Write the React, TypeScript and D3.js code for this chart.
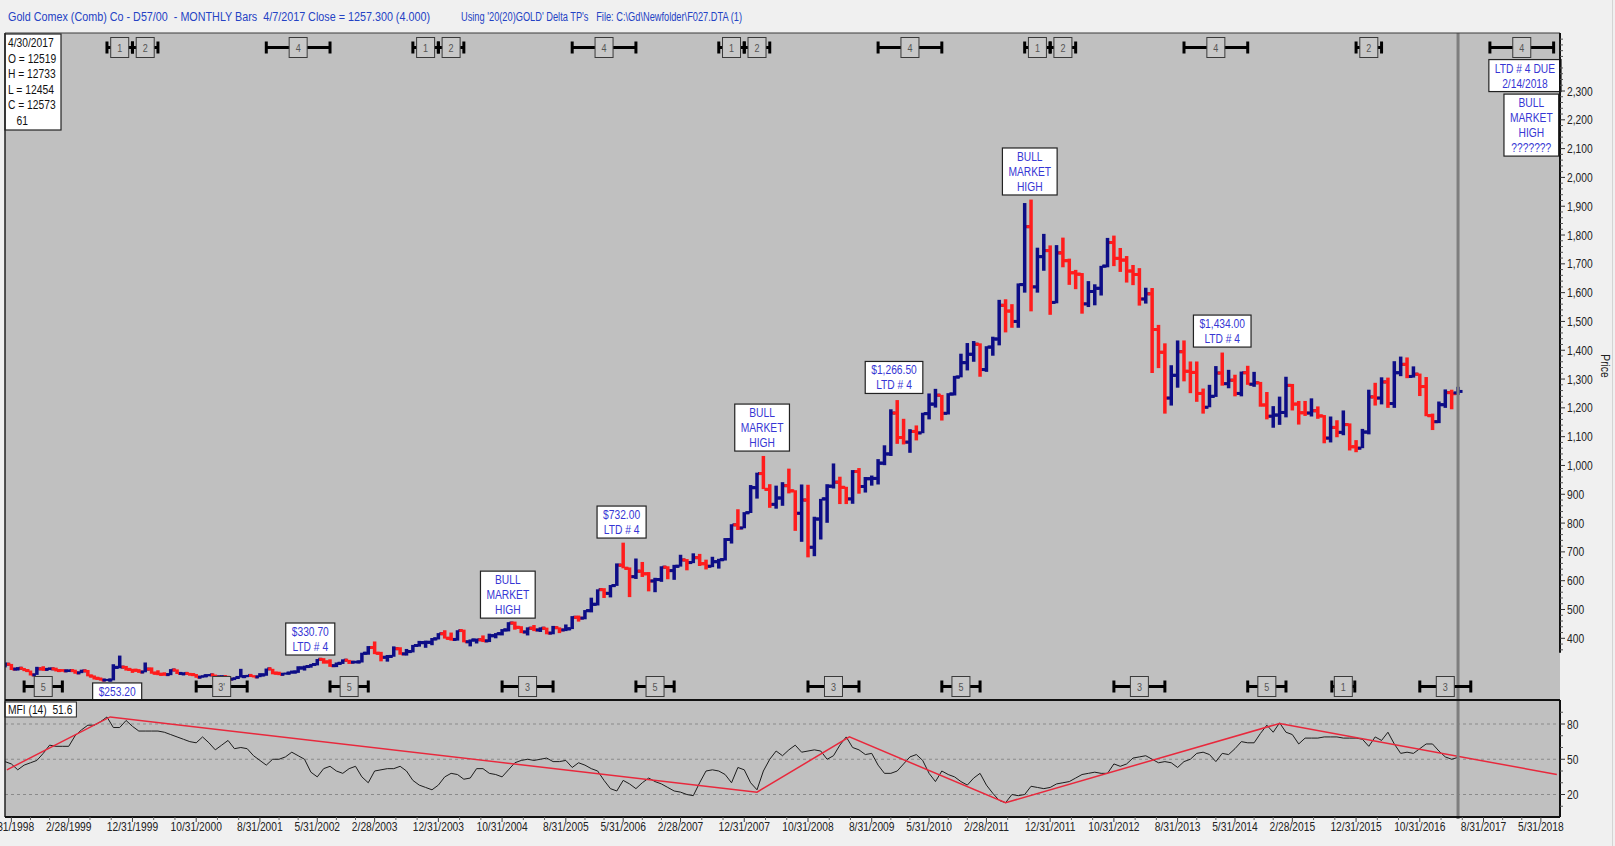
import React from 'react';
import * as d3 from 'd3';

// monthly bars, Apr 1998 .. Apr 2017 (month index counted from Jan 1998)
const firstMonth = 3;

const opens = [
  301, 310, 293, 296, 288, 273, 294, 292, 294,
  288, 287, 288, 280, 287, 269, 261, 255, 255, 299, 300, 292,
  289, 283, 293, 279, 275, 274, 290, 278, 278, 274, 265, 270,
  273, 266, 267, 258, 264, 267, 271, 266, 273, 294, 279, 275,
  279, 283, 297, 302, 309, 327, 318, 305, 313, 324, 317, 318,
  348, 368, 348, 334, 337, 364, 346, 354, 375, 385, 386, 398,
  416, 400, 396, 427, 388, 394, 395, 391, 409, 416, 429, 453,
  438, 422, 435, 429, 435, 418, 437, 429, 433, 473, 470, 496,
  518, 569, 556, 583, 654, 643, 614, 633, 624, 599, 604, 647,
  635, 650, 672, 663, 680, 659, 650, 666, 673, 743, 794, 783,
  836, 923, 972, 917, 865, 887, 930, 912, 834, 880, 716, 814,
  884, 928, 942, 924, 884, 979, 927, 954, 955, 1008, 1040, 1182,
  1097, 1081, 1118, 1113, 1180, 1213, 1244, 1181, 1248, 1307, 1357, 1386,
  1421, 1333, 1411, 1439, 1556, 1536, 1500, 1628, 1829, 1620, 1725, 1746,
  1566, 1738, 1711, 1669, 1664, 1561, 1604, 1615, 1692, 1774, 1719, 1713,
  1675, 1663, 1578, 1596, 1472, 1393, 1234, 1313, 1395, 1327, 1323, 1250,
  1202, 1240, 1321, 1284, 1296, 1250, 1322, 1282, 1287, 1210, 1171, 1175,
  1184, 1278, 1213, 1183, 1182, 1190, 1172, 1095, 1132, 1115, 1142, 1065,
  1060, 1116, 1238, 1234, 1290, 1215, 1322, 1351, 1309, 1317, 1274, 1173,
  1152, 1211, 1253, 1252,
];
const highs = [
  316, 311, 300, 297, 288, 301, 303, 299, 298,
  293, 292, 291, 291, 290, 271, 264, 259, 310, 340, 304, 294,
  293, 316, 299, 289, 282, 293, 292, 282, 280, 276, 272, 276,
  274, 272, 270, 265, 294, 273, 272, 279, 295, 294, 284, 281,
  288, 303, 305, 311, 328, 331, 327, 316, 327, 325, 322, 350,
  373, 389, 353, 342, 372, 369, 363, 377, 391, 392, 401, 418,
  428, 420, 428, 430, 396, 399, 410, 416, 418, 432, 456, 458,
  442, 438, 446, 438, 437, 443, 438, 448, 477, 479, 498, 541,
  570, 574, 585, 660, 732, 646, 677, 665, 630, 610, 650, 650,
  655, 690, 675, 695, 693, 673, 683, 676, 748, 796, 848, 838,
  932, 975, 1033, 935, 930, 942, 989, 914, 934, 933, 822, 884,
  935, 1007, 961, 926, 984, 991, 960, 965, 1022, 1070, 1195, 1227,
  1162, 1126, 1139, 1183, 1250, 1266, 1245, 1251, 1311, 1388, 1425, 1432,
  1424, 1414, 1447, 1575, 1577, 1560, 1632, 1911, 1923, 1756, 1804, 1764,
  1765, 1791, 1718, 1679, 1668, 1640, 1629, 1693, 1790, 1798, 1755, 1727,
  1696, 1685, 1617, 1616, 1488, 1424, 1348, 1434, 1434, 1361, 1361, 1267,
  1280, 1345, 1392, 1332, 1315, 1326, 1346, 1325, 1290, 1255, 1206, 1239,
  1308, 1283, 1224, 1224, 1233, 1205, 1175, 1170, 1157, 1191, 1146, 1088,
  1127, 1263, 1287, 1306, 1305, 1362, 1378, 1375, 1344, 1319, 1307, 1180,
  1222, 1264, 1263, 1273,
];
const lows = [
  299, 290, 288, 286, 271, 273, 287, 290, 285,
  284, 283, 277, 279, 268, 257, 253, 253, 254, 296, 288, 280,
  280, 282, 277, 272, 270, 272, 276, 271, 270, 263, 263, 268,
  262, 255, 256, 255, 264, 265, 264, 265, 270, 275, 272, 274,
  277, 280, 288, 298, 306, 312, 301, 300, 311, 311, 313, 316,
  343, 345, 320, 319, 336, 343, 340, 351, 371, 367, 376, 396,
  399, 392, 392, 386, 372, 382, 387, 387, 400, 410, 424, 430,
  418, 410, 425, 422, 414, 414, 418, 425, 432, 458, 466, 490,
  514, 540, 542, 582, 643, 543, 606, 613, 563, 560, 596, 605,
  603, 649, 636, 661, 651, 639, 647, 642, 670, 729, 776, 782,
  835, 885, 918, 853, 850, 860, 903, 773, 735, 681, 685, 743,
  801, 920, 866, 866, 867, 902, 906, 930, 934, 1001, 1033, 1075,
  1073, 1044, 1087, 1112, 1160, 1201, 1156, 1177, 1243, 1306, 1330, 1360,
  1308, 1325, 1381, 1417, 1462, 1478, 1478, 1600, 1535, 1600, 1676, 1523,
  1563, 1688, 1627, 1612, 1527, 1550, 1556, 1590, 1688, 1692, 1672, 1635,
  1626, 1555, 1562, 1321, 1338, 1180, 1208, 1270, 1292, 1251, 1221, 1180,
  1202, 1238, 1277, 1268, 1240, 1240, 1280, 1273, 1204, 1160, 1131, 1141,
  1167, 1191, 1142, 1172, 1170, 1162, 1077, 1080, 1098, 1105, 1052, 1046,
  1060, 1108, 1208, 1212, 1200, 1200, 1310, 1303, 1305, 1241, 1171, 1123,
  1147, 1200, 1195, 1245,
];
const closes = [
  310, 293, 296, 288, 273, 294, 292, 294, 288,
  287, 288, 280, 287, 269, 261, 255, 255, 299, 300, 292, 289,
  283, 293, 279, 275, 274, 290, 278, 278, 274, 265, 270, 273,
  266, 267, 258, 264, 267, 271, 266, 273, 294, 279, 275, 279,
  283, 297, 302, 309, 327, 318, 305, 313, 324, 317, 318, 348,
  368, 348, 334, 337, 364, 346, 354, 375, 385, 386, 398, 416,
  400, 396, 427, 388, 394, 395, 391, 409, 416, 429, 453, 438,
  422, 435, 429, 435, 418, 437, 429, 433, 473, 470, 496, 518,
  569, 556, 583, 654, 643, 614, 633, 624, 599, 604, 647, 635,
  650, 672, 663, 680, 659, 650, 666, 673, 743, 794, 783, 836,
  923, 972, 917, 865, 887, 930, 912, 834, 880, 716, 814, 884,
  928, 942, 924, 884, 979, 927, 954, 955, 1008, 1040, 1182, 1097,
  1081, 1118, 1113, 1180, 1213, 1244, 1181, 1248, 1307, 1357, 1386, 1421,
  1333, 1411, 1439, 1556, 1536, 1500, 1628, 1829, 1620, 1725, 1746, 1566,
  1738, 1711, 1669, 1664, 1561, 1604, 1615, 1692, 1774, 1719, 1713, 1675,
  1663, 1578, 1596, 1472, 1393, 1234, 1313, 1395, 1327, 1323, 1250, 1202,
  1240, 1321, 1284, 1296, 1250, 1322, 1282, 1287, 1210, 1171, 1175, 1184,
  1278, 1213, 1183, 1182, 1190, 1172, 1095, 1132, 1115, 1142, 1065, 1060,
  1116, 1238, 1234, 1290, 1215, 1322, 1351, 1309, 1317, 1274, 1173, 1152,
  1211, 1253, 1249, 1257,
];

// MFI(14), one value per bar
const mfi = [
  48, 46, 41, 45, 47, 49, 55, 62, 61,
  61, 61, 70, 75, 79, 79, 82, 86, 77, 77, 83, 78,
  74, 74, 74, 74, 73, 71, 69, 67, 65, 64, 69, 64,
  58, 62, 66, 59, 60, 59, 53, 49, 45, 50, 50, 52,
  56, 53, 50, 39, 35, 42, 44, 40, 38, 42, 44, 35,
  30, 40, 41, 42, 42, 44, 40, 32, 28, 26, 24, 28,
  35, 38, 37, 33, 34, 42, 42, 38, 37, 35, 41, 47,
  49, 50, 49, 50, 51, 48, 48, 49, 43, 47, 45, 42,
  40, 32, 25, 23, 32, 29, 25, 30, 34, 31, 29, 26,
  23, 22, 20, 19, 30, 40, 41, 40, 37, 30, 43, 41,
  30, 24, 40, 50, 57, 53, 58, 62, 56, 57, 58, 57,
  50, 53, 62, 69, 60, 58, 54, 55, 45, 38, 38, 40,
  46, 52, 54, 49, 38, 31, 40, 37, 35, 31, 28, 34,
  38, 28, 21, 15, 13, 20, 19, 20, 27, 26, 25, 26,
  29, 30, 31, 34, 37, 38, 39, 38, 38, 46, 44, 46,
  51, 52, 53, 50, 47, 48, 47, 43, 48, 50, 55, 56,
  54, 48, 55, 54, 59, 65, 64, 64, 72, 79, 73, 81,
  73, 71, 63, 68, 68, 68, 69, 69, 69, 68, 68, 68,
  67, 61, 69, 66, 73, 63, 55, 56, 55, 59, 63, 63,
  57, 52, 50, 51.6,
];

// red trend lines drawn on the MFI
const trendMonths = [3.3, 19.5, 121, 135.5, 160, 203, 246.5];
const trendValues = [41, 86, 22, 69, 13, 80.5, 37];

const dateLabels = [
  '5/31/1998', '2/28/1999', '12/31/1999', '10/31/2000', '8/31/2001', '5/31/2002', '2/28/2003',
  '12/31/2003', '10/31/2004', '8/31/2005', '5/31/2006', '2/28/2007', '12/31/2007', '10/31/2008',
  '8/31/2009', '5/31/2010', '2/28/2011', '12/31/2011', '10/31/2012', '8/31/2013', '5/31/2014',
  '2/28/2015', '12/31/2015', '10/31/2016', '8/31/2017', '5/31/2018',
];
const priceTicks = d3.range(400, 2301, 100);
const mfiTicks = [20, 50, 80];

// time cycle markers: label, centre month, half span in months
const topCycleLabels = ['1', '2', '4', '1', '2', '4', '1', '2', '4', '1', '2', '4', '2', '4'];
const topCycleMonths = [21, 25, 49, 69, 73, 97, 117, 121, 145, 165, 169, 193, 217, 241];
const topCycleSpans = [2, 2, 5, 2, 2, 5, 2, 2, 5, 2, 2, 5, 2, 5];
const bottomCycleLabels = ['5', "3'", '5', '3', '5', '3', '5', '3', '5', '1', '3'];
const bottomCycleMonths = [9, 37, 57, 85, 105, 133, 153, 181, 201, 213, 229];
const bottomCycleSpans = [3, 4, 3, 4, 3, 4, 3, 4, 3, 1.8, 4];

// text boxes on the price panel
const noteTexts = [
  ['$253.20'],
  ['$330.70', 'LTD # 4'],
  ['BULL', 'MARKET', 'HIGH'],
  ['$732.00', 'LTD # 4'],
  ['BULL', 'MARKET', 'HIGH'],
  ['$1,266.50', 'LTD # 4'],
  ['BULL', 'MARKET', 'HIGH'],
  ['$1,434.00', 'LTD # 4'],
  ['LTD # 4 DUE', '2/14/2018'],
  ['BULL', 'MARKET', 'HIGH', '???????'],
];
const noteMonths = [20.6, 50.9, 81.9, 99.75, 121.8, 142.5, 163.8, 194, 241.5, 242.5];
const notePrices = [245, 342, 470, 748, 1050, 1250, 1939, 1411, 2298, 2074];
const noteBelow = [true, false, false, false, false, false, false, false, false, false];

const infoLines = ['4/30/2017', 'O = 12519', 'H = 12733', 'L = 12454', 'C = 12573', '   61'];
const mfiCaption = 'MFI (14)  51.6';

const FONT = "'Liberation Sans Narrow', 'Arial Narrow', 'Liberation Sans', Arial, sans-serif";
const BLUE = '#0d0d86';
const RED = '#ff1c1c';
const NOTE = '#3636d4';
const BG = '#c0c0c0';
const NARROW = 0.82; // the original uses a condensed face

let ctx: CanvasRenderingContext2D | null = null;
const textWidth = (s: string, size = 12) => {
  if (!ctx) ctx = document.createElement('canvas').getContext('2d');
  if (!ctx) return s.length * 6.2;
  ctx.font = `${size}px ${FONT}`;
  return ctx.measureText(s).width;
};

// condensed text: squeeze the measured width
function T({ s, size = 12, len, ...rest }: { s: string; size?: number; len?: number; [k: string]: any }) {
  return (
    <text fontSize={size} textLength={len ?? textWidth(s, size) * NARROW} lengthAdjust="spacingAndGlyphs"
      style={{ whiteSpace: 'pre' }} {...rest}>{s}</text>
  );
}

const monthIndex = (label: string) => {
  const [m, , yr] = label.split('/').map(Number);
  return (yr - 1998) * 12 + m - 1;
};

const L = 5, R = 1560, TOP = 33, MID = 700, BOT = 817;

function Cycle({ cx, x0, x1, cy, label }: { cx: number; x0: number; x1: number; cy: number; label: string }) {
  return (
    <g>
      <line x1={x0} x2={x1} y1={cy} y2={cy} stroke="#000" strokeWidth={3} />
      <line x1={x0} x2={x0} y1={cy - 6} y2={cy + 6} stroke="#000" strokeWidth={3} />
      <line x1={x1} x2={x1} y1={cy - 6} y2={cy + 6} stroke="#000" strokeWidth={3} />
      <rect x={cx - 9} y={cy - 10} width={18} height={20} fill="#c8c8c8" stroke="#3a3a3a" strokeWidth={1} />
      <T s={label} x={cx} y={cy + 4} textAnchor="middle" size={11} fill="#555" />
    </g>
  );
}

export default function App() {
  const x = d3.scaleLinear().domain([3, 247]).range([L, R]);
  const y = d3.scaleLinear().domain([400, 2300]).range([638.3, 91]);
  const ym = d3.scaleLinear().domain([0, 100]).range([818, 700.5]);

  const mfiLine = d3.line<number>().x((_, i) => x(firstMonth + i)).y(v => ym(v));
  const trendLine = d3.line<number>().x((_, i) => x(trendMonths[i])).y(v => ym(v));

  const labelMonths = dateLabels.map(monthIndex);
  const minorTicks: number[] = [];
  labelMonths.forEach((m, i) => {
    const next = labelMonths[i + 1];
    if (next !== undefined) {
      minorTicks.push(m + (next - m) / 3, m + (2 * (next - m)) / 3);
    }
  });

  const minorPrice = d3.range(360, 2500, 20).filter(v => v % 100 !== 0);
  const minorMfi = d3.range(10, 100, 10).filter(v => !mfiTicks.includes(v));
  const captionW = textWidth(mfiCaption, 12.5) * NARROW + 7;

  return (
    <svg width={1615} height={846} style={{ position: 'absolute', left: 0, top: 0 }} fontFamily={FONT}>
      <defs>
        <clipPath id="mainClip"><rect x={L} y={TOP} width={R - L} height={MID - TOP} /></clipPath>
        <clipPath id="mfiClip"><rect x={L} y={MID} width={R - L} height={BOT - MID} /></clipPath>
      </defs>
      <rect width={1615} height={846} fill="#f0f0f0" />
      <line x1={1612.5} x2={1612.5} y1={0} y2={846} stroke="#d4d4d4" />

      {/* header */}
      <T s="Gold Comex (Comb) Co - D57/00  - MONTHLY Bars  4/7/2017 Close = 1257.300 (4.000)"
        x={8} y={21} size={12.5} len={422} fill="#2442c4" />
      <T s={"Using '20(20)GOLD' Delta TP's   File: C:\\Gd\\Newfolder\\F027.DTA (1)"}
        x={461} y={21} size={12.5} len={281} fill="#2442c4" />

      {/* panels */}
      <rect x={L} y={TOP} width={R - L} height={MID - TOP} fill={BG} />
      <rect x={L} y={MID} width={R - L} height={BOT - MID} fill={BG} />

      {/* price bars */}
      <g clipPath="url(#mainClip)">
        {closes.map((c, i) => {
          const cx = x(firstMonth + i);
          const col = c >= opens[i] ? BLUE : RED;
          return (
            <g key={i} fill={col}>
              <rect x={cx - 1.75} y={y(highs[i])} width={3.5} height={Math.max(2, y(lows[i]) - y(highs[i]))} />
              <rect x={cx - 4.5} y={y(opens[i]) - 1.5} width={3.5} height={3} />
              <rect x={cx + 1} y={y(c) - 1.5} width={3.5} height={3} />
            </g>
          );
        })}
      </g>

      {/* MFI */}
      <g clipPath="url(#mfiClip)">
        {mfiTicks.map(t => (
          <line key={t} x1={L} x2={R} y1={ym(t)} y2={ym(t)} stroke="#8a8a8a" strokeDasharray="3,3" />
        ))}
        <path d={mfiLine(mfi) ?? ''} fill="none" stroke="#1c1c1c" strokeWidth={1} />
        <path d={trendLine(trendValues) ?? ''} fill="none" stroke="#e8283c" strokeWidth={1.5} />
      </g>

      {/* current bar marker */}
      <line x1={x(231)} x2={x(231)} y1={TOP} y2={BOT + 2} stroke="#7e7e7e" strokeWidth={3} />

      {/* cycle markers */}
      {topCycleLabels.map((lab, i) => (
        <Cycle key={'t' + i} label={lab} cx={x(topCycleMonths[i])} cy={47.5}
          x0={x(topCycleMonths[i] - topCycleSpans[i])} x1={x(topCycleMonths[i] + topCycleSpans[i])} />
      ))}
      {bottomCycleLabels.map((lab, i) => (
        <Cycle key={'b' + i} label={lab} cx={x(bottomCycleMonths[i])} cy={686.5}
          x0={x(bottomCycleMonths[i] - bottomCycleSpans[i])} x1={x(bottomCycleMonths[i] + bottomCycleSpans[i])} />
      ))}

      {/* notes */}
      {noteTexts.map((lines, i) => {
        const w = Math.max(...lines.map(s => textWidth(s, 12.5) * NARROW)) + 12;
        const h = lines.length * 15 + 2;
        const cx = x(noteMonths[i]);
        const top = noteBelow[i] ? y(notePrices[i]) : y(notePrices[i]) - h;
        return (
          <g key={'n' + i}>
            <rect x={cx - w / 2} y={top} width={w} height={h} fill="#fff" stroke="#222" strokeWidth={1.2} />
            {lines.map((s, j) => (
              <T key={j} s={s} x={cx} y={top + 13 + j * 15} textAnchor="middle" size={12.5} fill={NOTE} />
            ))}
          </g>
        );
      })}

      {/* info box */}
      <rect x={L} y={TOP + 1} width={56} height={96} fill="#fff" stroke="#222" strokeWidth={1.2} />
      {infoLines.map((s, i) => (
        <T key={i} s={s} x={L + 3} y={TOP + 14 + i * 15.5} size={12.5} fill="#111" />
      ))}
      <rect x={L} y={MID + 2} width={captionW} height={15} fill="#fff" stroke="#222" strokeWidth={1} />
      <T s={mfiCaption} x={L + 3} y={MID + 14} size={12.5} fill="#111" />

      {/* frame lines */}
      <line x1={L} x2={R} y1={TOP} y2={TOP} stroke="#3a3a3a" />
      <line x1={L} x2={L} y1={TOP} y2={BOT} stroke="#222" strokeWidth={1.5} />
      <line x1={L} x2={R} y1={MID} y2={MID} stroke="#111" strokeWidth={2} />
      <line x1={L} x2={R} y1={BOT} y2={BOT} stroke="#111" strokeWidth={2} />
      <line x1={R} x2={R} y1={TOP} y2={y(350)} stroke="#111" strokeWidth={2} />
      <line x1={R} x2={R} y1={MID} y2={BOT} stroke="#111" strokeWidth={2} />

      {/* price axis */}
      {minorPrice.filter(v => y(v) > TOP && y(v) < y(350)).map(v => (
        <line key={'mp' + v} x1={R} x2={R + 3} y1={y(v)} y2={y(v)} stroke="#555" />
      ))}
      {priceTicks.map(v => (
        <g key={'p' + v}>
          <line x1={R} x2={R + 5} y1={y(v)} y2={y(v)} stroke="#333" />
          <T s={d3.format(',')(v)} x={R + 7} y={y(v) + 4.5} size={12.5} fill="#222" />
        </g>
      ))}
      <T s="Price" transform="translate(1601,366) rotate(90)" textAnchor="middle" size={12.5} fill="#222" />

      {/* mfi axis */}
      {minorMfi.map(v => (
        <line key={'mm' + v} x1={R} x2={R + 3} y1={ym(v)} y2={ym(v)} stroke="#555" />
      ))}
      {mfiTicks.map(v => (
        <g key={'m' + v}>
          <line x1={R} x2={R + 5} y1={ym(v)} y2={ym(v)} stroke="#333" />
          <T s={String(v)} x={R + 7} y={ym(v) + 4.5} size={12.5} fill="#222" />
        </g>
      ))}

      {/* date axis */}
      {minorTicks.map((m, i) => (
        <line key={'mt' + i} x1={x(m)} x2={x(m)} y1={BOT} y2={BOT + 3} stroke="#666" />
      ))}
      {dateLabels.map((s, i) => (
        <g key={'d' + i}>
          <line x1={x(labelMonths[i])} x2={x(labelMonths[i])} y1={BOT} y2={BOT + 5} stroke="#444" />
          <T s={s} x={x(labelMonths[i])} y={831} textAnchor="middle" size={12.5} fill="#222" />
        </g>
      ))}
    </svg>
  );
}
